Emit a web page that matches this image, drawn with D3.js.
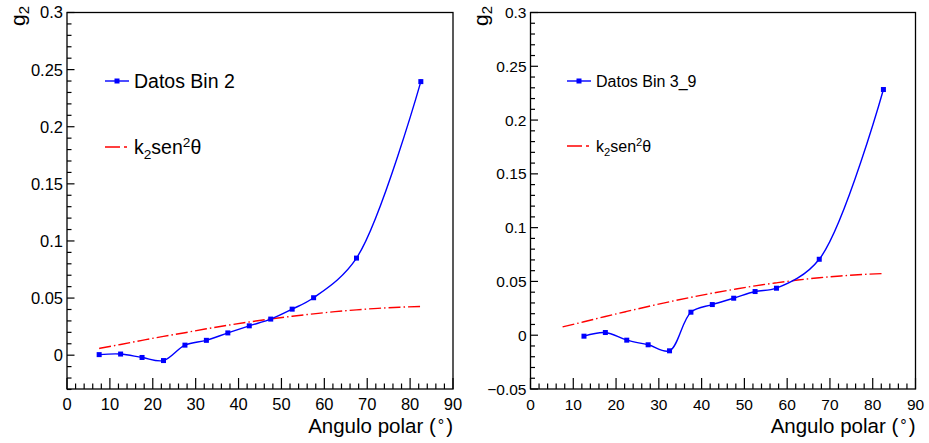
<!DOCTYPE html>
<html>
<head>
<meta charset="utf-8">
<script src="https://cdn.jsdelivr.net/npm/d3@7"></script>
<style>
  html, body { margin: 0; padding: 0; background: #fff; }
  svg { display: block; }
  text { font-family: "Liberation Sans", Arial, Helvetica, sans-serif; fill: #000; }
</style>
</head>
<body>
<svg id="chart" width="929" height="443"></svg>
<script>
// ---------------- data ----------------
const bin2Angles = [7.5, 12.5, 17.5, 22.5, 27.5, 32.5, 37.5, 42.5, 47.5, 52.5, 57.5, 67.5, 82.5];
const bin2G2     = [0.0005, 0.001, -0.002, -0.0047, 0.0088, 0.013, 0.0195, 0.0257, 0.0316, 0.0403, 0.0503, 0.085, 0.2395];
const bin2Err    = [0.0004, 0.0004, 0.0004, 0.0004, 0.0004, 0.0004, 0.0004, 0.0004, 0.0004, 0.0005, 0.0006, 0.0008, 0.0018];

const bin39Angles = [12.5, 17.5, 22.5, 27.5, 32.5, 37.5, 42.5, 47.5, 52.5, 57.5, 67.5, 82.5];
const bin39G2     = [-0.0009, 0.0025, -0.0046, -0.0089, -0.0145, 0.0214, 0.0285, 0.0344, 0.0406, 0.0437, 0.0706, 0.2284];
const bin39Err    = [0.0004, 0.0004, 0.0004, 0.0004, 0.0004, 0.0004, 0.0004, 0.0004, 0.0004, 0.0005, 0.0006, 0.0010];

const fitAngles = [7.5, 12.5, 17.5, 22.5, 27.5, 32.5, 37.5, 42.5, 47.5, 52.5, 57.5, 62.5, 67.5, 72.5, 77.5, 82.5];
const fitBin2   = [0.0059, 0.0094, 0.0130, 0.0165, 0.0197, 0.0231, 0.0262, 0.0291, 0.0317, 0.0341, 0.0362, 0.0381, 0.0397, 0.0410, 0.0420, 0.0426];
const fitBin39  = [0.0077, 0.0125, 0.0174, 0.0221, 0.0267, 0.0311, 0.0352, 0.0391, 0.0426, 0.0459, 0.0487, 0.0513, 0.0534, 0.0551, 0.0564, 0.0573];

const xTicks = [0, 10, 20, 30, 40, 50, 60, 70, 80, 90];
const yTicksLeft  = [0, 0.05, 0.1, 0.15, 0.2, 0.25, 0.3];
const yTicksRight = [-0.05, 0, 0.05, 0.1, 0.15, 0.2, 0.25, 0.3];
const legendLeft  = ["Datos Bin 2"];
const legendRight = ["Datos Bin 3_9"];

// ---------------- drawing ----------------
const svg = d3.select("#chart");

function fmt(v) {
  if (Math.abs(v) < 1e-9) return "0";
  let s = String(+v.toFixed(3));
  return s.replace("-", "\u2212");
}

function panel(cfg) {
  const g = svg.append("g");
  const x = d3.scaleLinear().domain([0, 90]).range([cfg.x0, cfg.x1]);
  const y = d3.scaleLinear().domain(cfg.yDomain).range([cfg.y1, cfg.y0]);

  // frame
  g.append("rect")
    .attr("x", cfg.x0).attr("y", cfg.y0)
    .attr("width", cfg.x1 - cfg.x0).attr("height", cfg.y1 - cfg.y0)
    .attr("fill", "none").attr("stroke", "#000").attr("stroke-width", 1.3);

  // x ticks (inside)
  const xMinor = d3.range(0, 90.001, 2);
  g.selectAll(".xmin").data(xMinor).enter().append("line")
    .attr("x1", d => x(d)).attr("x2", d => x(d))
    .attr("y1", cfg.y1).attr("y2", d => cfg.y1 - (d % 10 === 0 ? 11 : 5.5))
    .attr("stroke", "#000").attr("stroke-width", 1.2);
  g.selectAll(".xlab").data(xTicks).enter().append("text")
    .attr("x", d => x(d)).attr("y", cfg.y1 + 21)
    .attr("text-anchor", "middle")
    .style("font-size", cfg.tickFont + "px")
    .text(d => d);

  // y ticks (inside)
  const [ya, yb] = cfg.yDomain;
  const yMinor = d3.range(Math.round(ya * 100), Math.round(yb * 100) + 1).map(k => k / 100);
  g.selectAll(".ymin").data(yMinor).enter().append("line")
    .attr("x1", cfg.x0).attr("x2", d => cfg.x0 + (Math.round(d * 100) % 5 === 0 ? 7.5 : 4.5))
    .attr("y1", d => y(d)).attr("y2", d => y(d))
    .attr("stroke", "#000").attr("stroke-width", 1.2);
  g.selectAll(".ylab").data(cfg.yTicks).enter().append("text")
    .attr("x", cfg.x0 - 4).attr("y", d => y(d))
    .attr("dy", "0.36em")
    .attr("text-anchor", "end")
    .style("font-size", cfg.tickFont + "px")
    .text(d => fmt(d));

  // axis titles
  const xt = g.append("text")
    .attr("x", cfg.x1).attr("y", cfg.y1 + 44)
    .attr("text-anchor", "end")
    .style("font-size", "20.5px");
  xt.append("tspan").text("Angulo polar (");
  xt.append("tspan").attr("dx", 2).attr("dy", -2).style("font-size", "16px").text("\u00b0");
  xt.append("tspan").attr("dx", 2).attr("dy", 2).text(")");

  const yt = g.append("text")
    .attr("transform", `translate(${cfg.ytX},${cfg.ytY}) rotate(-90)`)
    .attr("text-anchor", "end")
    .style("font-size", "21px");
  yt.append("tspan").text("g");
  yt.append("tspan").attr("dy", 4).style("font-size", "15px").text("2");

  // clip
  const clipId = "clip" + cfg.id;
  svg.append("clipPath").attr("id", clipId).append("rect")
    .attr("x", cfg.x0).attr("y", cfg.y0).attr("width", cfg.x1 - cfg.x0).attr("height", cfg.y1 - cfg.y0);

  const plot = g.append("g").attr("clip-path", `url(#${clipId})`);

  // fit curve (red dash-dot)
  const fitLine = d3.line().x(d => x(d[0])).y(d => y(d[1])).curve(d3.curveMonotoneX);
  plot.append("path")
    .datum(fitAngles.map((a, i) => [a, cfg.fit[i]]))
    .attr("d", fitLine)
    .attr("fill", "none").attr("stroke", "#ff0000").attr("stroke-width", 1.4)
    .attr("stroke-dasharray", "12 3 1.5 3");

  // data curve (blue smooth)
  const pts = cfg.angles.map((a, i) => [a, cfg.vals[i], cfg.errs[i]]);
  const dataLine = d3.line().x(d => x(d[0])).y(d => y(d[1])).curve(d3.curveCatmullRom.alpha(0.5));
  plot.append("path").datum(pts).attr("d", dataLine)
    .attr("fill", "none").attr("stroke", "#0000ff").attr("stroke-width", 1.4);

  // error bars
  plot.selectAll(".err").data(pts).enter().append("line")
    .attr("x1", d => x(d[0])).attr("x2", d => x(d[0]))
    .attr("y1", d => y(d[1] - d[2])).attr("y2", d => y(d[1] + d[2]))
    .attr("stroke", "#0000ff").attr("stroke-width", 1.4);
  // markers
  const ms = 5;
  plot.selectAll(".mk").data(pts).enter().append("rect")
    .attr("x", d => x(d[0]) - ms / 2).attr("y", d => y(d[1]) - ms / 2)
    .attr("width", ms).attr("height", ms)
    .attr("fill", "#0000ff");

  // legend
  const L = cfg.legend;
  g.append("line").attr("x1", L.x).attr("x2", L.x + 24).attr("y1", L.y1).attr("y2", L.y1)
    .attr("stroke", "#0000ff").attr("stroke-width", 1.4);
  g.append("rect").attr("x", L.x + 12 - ms / 2).attr("y", L.y1 - ms / 2)
    .attr("width", ms).attr("height", ms).attr("fill", "#0000ff");
  g.append("text").attr("x", L.x + 29).attr("y", L.y1).attr("dy", "0.36em")
    .style("font-size", L.font + "px").text(cfg.legendText[0]);

  g.append("line").attr("x1", L.x).attr("x2", L.x + 24).attr("y1", L.y2).attr("y2", L.y2)
    .attr("stroke", "#ff0000").attr("stroke-width", 1.4)
    .attr("stroke-dasharray", "15 4 3 4");
  const kt = g.append("text").attr("x", L.x + 29).attr("y", L.y2).attr("dy", "0.36em")
    .style("font-size", L.font + "px");
  kt.append("tspan").text("k");
  kt.append("tspan").attr("dy", L.font * 0.25).style("font-size", (L.font * 0.7) + "px").text("2");
  kt.append("tspan").attr("dy", -L.font * 0.25).text("sen");
  kt.append("tspan").attr("dy", -L.font * 0.35).style("font-size", (L.font * 0.7) + "px").text("2");
  kt.append("tspan").attr("dy", L.font * 0.35).text("\u03b8");
}

panel({
  id: "L", x0: 67, x1: 453, y0: 12.5, y1: 389, yDomain: [-0.0296, 0.3], yTicks: yTicksLeft,
  tickFont: 16.5, ytX: 25, ytY: 6,
  angles: bin2Angles, vals: bin2G2, errs: bin2Err, fit: fitBin2,
  legend: { x: 105, y1: 81, y2: 147, font: 19.5 }, legendText: legendLeft
});

panel({
  id: "R", x0: 530.5, x1: 915.5, y0: 12.5, y1: 389, yDomain: [-0.05, 0.3], yTicks: yTicksRight,
  tickFont: 15.5, ytX: 488, ytY: 6,
  angles: bin39Angles, vals: bin39G2, errs: bin39Err, fit: fitBin39,
  legend: { x: 567, y1: 81, y2: 146, font: 16 }, legendText: legendRight
});
</script>
</body>
</html>
